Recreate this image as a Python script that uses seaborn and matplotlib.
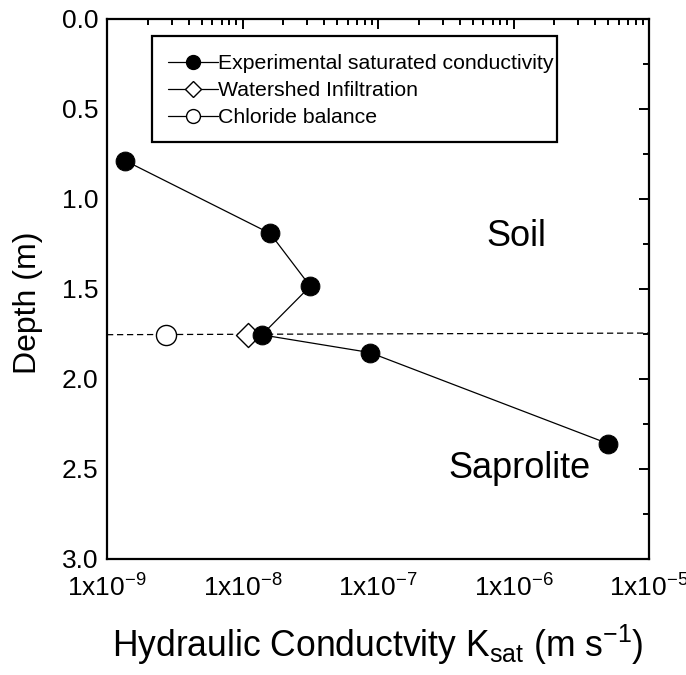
import numpy as np
import pandas as pd
import matplotlib
matplotlib.use("Agg")
import matplotlib.pyplot as plt
from matplotlib.lines import Line2D
from matplotlib.patches import Rectangle
from matplotlib.ticker import LogLocator, FixedLocator, MultipleLocator, NullFormatter
import seaborn as sns

# Saturated hydraulic conductivity profile (m/s) against depth (m)
exp_k = [1.36e-9, 1.60e-8, 3.16e-8, 1.39e-8, 8.7e-8, 5.0e-6]
exp_depth = [0.789, 1.193, 1.486, 1.756, 1.854, 2.36]

watershed_k = [1.09e-8]
watershed_depth = [1.756]

chloride_k = [2.71e-9]
chloride_depth = [1.756]

# Soil / saprolite boundary
boundary_k = [1e-9, 1e-5]
boundary_depth = [1.755, 1.746]

xtick_vals = [1e-9, 1e-8, 1e-7, 1e-6, 1e-5]
xtick_labels = [r"$\mathregular{1x10^{-9}}$", r"$\mathregular{1x10^{-8}}$",
                r"$\mathregular{1x10^{-7}}$", r"$\mathregular{1x10^{-6}}$",
                r"$\mathregular{1x10^{-5}}$"]
ytick_vals = [0.0, 0.5, 1.0, 1.5, 2.0, 2.5, 3.0]

sns.set_style("white")
plt.rcParams["font.family"] = ["Liberation Sans", "DejaVu Sans"]
plt.rcParams["mathtext.fontset"] = "custom"
plt.rcParams["mathtext.rm"] = "Liberation Sans"
plt.rcParams["text.color"] = "black"
plt.rcParams["axes.labelcolor"] = "black"
plt.rcParams["xtick.color"] = "black"
plt.rcParams["ytick.color"] = "black"

fig = plt.figure(figsize=(6.86, 6.75), dpi=100)
ax = fig.add_axes([107 / 686, 1 - 559 / 675, (649 - 107) / 686, (559 - 18.5) / 675])

df_exp = pd.DataFrame({"k": exp_k, "depth": exp_depth})
sns.lineplot(data=pd.DataFrame({"k": boundary_k, "depth": boundary_depth}), x="k", y="depth",
             ax=ax, color="black", lw=0.9, linestyle=(0, (5, 3)), sort=False, zorder=1)
sns.lineplot(data=df_exp, x="k", y="depth", ax=ax, sort=False, color="black", lw=0.9,
             marker="o", markersize=13.5, markerfacecolor="black", markeredgecolor="black",
             zorder=4)
sns.scatterplot(x=watershed_k, y=watershed_depth, ax=ax, marker="D", s=150,
                facecolor="white", edgecolor="black", linewidth=1.0, zorder=3)
sns.scatterplot(x=chloride_k, y=chloride_depth, ax=ax, marker="o", s=210,
                facecolor="white", edgecolor="black", linewidth=1.0, zorder=3)

ax.set_xscale("log")
ax.set_xlim(1e-9, 1e-5)
ax.set_ylim(3.0, 0.0)

ax.xaxis.set_major_locator(FixedLocator(xtick_vals))
ax.set_xticklabels(xtick_labels)
ax.xaxis.set_minor_locator(LogLocator(base=10, subs=np.arange(2, 10)))
ax.xaxis.set_minor_formatter(NullFormatter())
ax.yaxis.set_major_locator(FixedLocator(ytick_vals))
ax.set_yticklabels([f"{v:.1f}" for v in ytick_vals])
ax.yaxis.set_minor_locator(MultipleLocator(0.25))

ax.tick_params(which="both", direction="in", top=True, right=True, width=1.4, colors="black")
ax.tick_params(which="major", length=7, labelsize=19, pad=6)
ax.tick_params(which="minor", length=4)
ax.tick_params(axis="x", which="major", pad=11)

for s in ax.spines.values():
    s.set_linewidth(1.6)
    s.set_color("black")
    s.set_visible(True)

ax.set_xlabel(r"Hydraulic Conductvity K$\mathregular{_{sat}}$ (m s$\mathregular{^{-1}}$)",
              fontsize=25.6, labelpad=15)
ax.set_ylabel("Depth (m)", fontsize=23)
ax.yaxis.set_label_coords(-0.118, 0.475)

ax.text(6.3e-7, 1.21, "Soil", fontsize=26, ha="left", va="center")
ax.text(1.1e-6, 2.5, "Saprolite", fontsize=26, ha="center", va="center")

# Legend box drawn as its own frame
ax.add_patch(Rectangle((0.083, 0.7715), 0.747, 0.196, transform=ax.transAxes,
                       facecolor="white", edgecolor="black", linewidth=1.6, zorder=5))

handles = [
    Line2D([], [], color="black", lw=0.9, marker="o", markersize=10,
           markerfacecolor="black", markeredgecolor="black"),
    Line2D([], [], color="black", lw=0.9, marker="D", markersize=8.5,
           markerfacecolor="white", markeredgecolor="black"),
    Line2D([], [], color="black", lw=0.9, marker="o", markersize=10,
           markerfacecolor="white", markeredgecolor="black"),
]
labels = ["Experimental saturated conductivity", "Watershed Infiltration", "Chloride balance"]
leg = ax.legend(handles, labels, loc="upper left", bbox_to_anchor=(0.1125, 0.934),
                fontsize=15.3, frameon=False,
                handlelength=2.35, handletextpad=0.0, labelspacing=0.38,
                borderpad=0.0, borderaxespad=0.0)
leg.set_zorder(6)

fig.savefig("out.png", dpi=100, facecolor="white")
